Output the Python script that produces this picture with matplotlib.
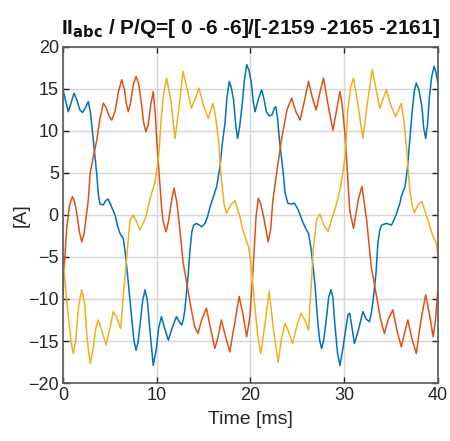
import numpy as np
import matplotlib
matplotlib.use('Agg')
import matplotlib.pyplot as plt

plt.rcParams['font.family'] = ['Liberation Sans', 'DejaVu Sans']

# phase a (blue) - time [ms], current [A]
t_a = [0.0, 0.3, 0.57, 0.85, 1.17, 1.5, 1.8, 2.1, 2.4, 2.7, 2.95, 3.23, 3.59, 3.77, 3.95,
       4.3, 4.55, 4.8, 5.1, 5.55, 5.8, 6.08, 6.43, 6.7, 6.97, 7.33, 7.55, 7.79, 8.0, 8.2,
       8.5, 8.75, 9.0, 9.3, 9.63, 9.95, 10.2, 10.5, 10.85, 11.24, 11.6, 12.1, 12.4, 12.66,
       12.85, 13.0, 13.2, 13.37, 13.55, 13.75, 13.95, 14.26, 14.55, 14.8, 15.15, 15.4, 15.7,
       16.0, 16.4, 16.75, 17.0, 17.28, 17.5, 17.74, 17.95, 18.2, 18.45, 18.63, 18.85, 19.1,
       19.35, 19.6, 19.85, 20.1, 20.3, 20.5, 20.85, 21.2, 21.45, 21.7, 22.0, 22.3, 22.55,
       22.7, 22.9, 23.1, 23.5, 23.7, 24.0, 24.35, 24.7, 25.1, 25.5, 25.85, 26.2, 26.5, 26.9,
       27.2, 27.4, 27.6, 27.8, 28.05, 28.35, 28.6, 28.8, 29.0, 29.3, 29.55, 29.85, 30.1,
       30.4, 30.6, 30.85, 31.1, 31.5, 32.0, 32.35, 32.7, 32.9, 33.1, 33.4, 33.6, 33.8, 34.0,
       34.5, 35.05, 35.35, 35.6, 35.95, 36.1, 36.5, 36.75, 37.0, 37.3, 37.5, 37.7, 37.95,
       38.3, 38.5, 38.7, 38.9, 39.1, 39.35, 39.6, 39.8, 40.0]
i_a = [14.9, 13.5, 12.3, 13.3, 14.5, 13.6, 12.5, 12.2, 12.8, 13.5, 12.0, 8.9, 5.0, 2.5, 1.3,
       1.2, 1.7, 1.9, 1.2, 0.0, -1.2, -2.2, -2.8, -5.0, -8.1, -12.1, -14.8, -16.1, -15.2, -13.3,
       -10.2, -8.9, -10.2, -14.0, -17.9, -16.0, -13.5, -12.1, -13.5, -14.9, -13.6, -12.1, -12.7, -13.1,
       -12.4, -11.3, -9.0, -6.9, -4.2, -2.0, -1.2, -1.0, -1.2, -1.4, -1.0, -0.3, 1.0,
       2.0, 3.4, 5.75, 8.5, 10.9, 14.0, 15.9, 15.2, 13.7, 10.5, 9.1, 10.5, 12.9,
       16.0, 17.9, 17.2, 15.7, 13.5, 12.3, 13.8, 14.9, 13.8, 12.3, 11.8, 11.9, 12.7,
       12.9, 11.5, 8.9, 5.0, 2.6, 1.4, 1.3, 1.4, 0.6, -0.6, -1.5, -2.2, -4.2, -8.5,
       -12.9, -15.0, -15.9, -15.0, -12.9, -9.8, -8.9, -9.8, -12.9, -16.5, -17.9, -16.0, -14.1,
       -11.9, -11.7, -13.5, -15.3, -13.8, -11.5, -12.4, -12.7, -11.7, -10.1, -6.9, -3.4, -1.8, -1.2,
       -1.0, -1.2, -0.5, 0.2, 1.4, 2.2, 3.4, 5.5, 8.9, 12.8, 14.8, 15.7, 15.0,
       12.9, 10.3, 9.1, 10.8, 14.1, 16.5, 17.7, 17.0, 15.7]

# phase b (red)
t_b = [0.0, 0.2, 0.4, 0.7, 1.0, 1.25, 1.5, 1.75, 2.0, 2.25, 2.5, 2.7, 2.9, 3.25, 3.6, 3.95,
       4.3, 4.6, 4.9, 5.2, 5.55, 5.9, 6.26, 6.55, 6.75, 6.97, 7.2, 7.5, 7.8, 8.1, 8.4, 8.6,
       8.85, 9.1, 9.35, 9.63, 9.85, 10.0, 10.35, 10.55, 10.7, 11.0, 11.25, 11.6, 11.85, 12.15,
       12.45, 12.8, 13.2, 13.7, 14.05, 14.4, 14.8, 15.3, 15.75, 16.2, 16.55, 16.9, 17.35, 17.8,
       18.3, 18.8, 19.2, 19.6, 19.95, 20.3, 20.6, 20.85, 21.1, 21.4, 21.9, 22.15, 22.4, 22.8,
       23.3, 23.9, 24.4, 24.85, 25.3, 25.75, 26.2, 26.6, 27.0, 27.4, 27.8, 28.3, 28.8, 29.2,
       29.55, 29.8, 30.1, 30.6, 31.0, 31.5, 31.9, 32.4, 32.9, 33.4, 33.9, 34.3, 34.75, 35.2,
       35.65, 36.1, 36.45, 36.8, 37.25, 37.7, 38.2, 38.7, 39.1, 39.5, 39.75, 40.0]
i_b = [-9.5, -5.0, -1.5, 1.2, 2.2, 1.5, 0.0, -2.0, -3.2, -2.2, 0.0, 1.8, 5.0, 7.0, 8.9, 11.5,
       13.3, 12.8, 11.8, 11.3, 12.3, 14.6, 16.1, 15.0, 13.3, 12.3, 13.3, 15.5, 16.5, 15.5, 13.0, 11.0,
       9.9, 10.8, 13.0, 14.7, 12.0, 8.9, 3.5, 0.5, -0.8, -2.0, -0.8, 1.8, 3.2, 1.5,
       -1.5, -5.5, -8.1, -11.3, -13.3, -14.1, -12.5, -11.1, -13.5, -15.9, -14.5, -12.5, -14.5, -16.3,
       -13.0, -9.7, -11.8, -14.5, -12.1, -6.2, -0.2, 2.0, 1.3, -0.2, -3.2, -1.8, 1.8, 5.0,
       8.9, 12.5, 13.9, 12.3, 11.3, 13.5, 15.9, 14.0, 12.5, 14.5, 16.3, 13.0, 10.1, 12.5,
       14.7, 13.0, 9.5, 0.5, -1.6, 1.8, 3.4, -0.6, -6.2, -9.3, -12.5, -14.1, -12.3, -11.3,
       -13.8, -15.7, -14.0, -12.5, -14.8, -16.5, -12.5, -9.5, -11.8, -14.5, -12.5, -8.9]

# phase c (yellow)
t_c = [0.0, 0.3, 0.57, 0.85, 1.1, 1.35, 1.65, 2.0, 2.3, 2.6, 2.9, 3.2, 3.5, 3.77, 4.2, 4.6,
       5.0, 5.37, 5.7, 6.15, 6.4, 6.8, 7.15, 7.5, 7.85, 8.2, 8.55, 8.85, 9.3, 9.8, 10.2, 10.5,
       10.75, 11.05, 11.5, 11.95, 12.35, 12.8, 13.25, 13.7, 14.1, 14.5, 15.0, 15.5, 16.0, 16.3,
       16.6, 16.9, 17.2, 17.45, 17.9, 18.35, 18.9, 19.2, 19.8, 20.1, 20.5, 20.8, 21.1, 21.55,
       22.0, 22.5, 22.96, 23.35, 23.7, 24.1, 24.5, 25.0, 25.4, 25.8, 26.2, 26.5, 26.7, 27.05,
       27.4, 27.85, 28.3, 28.65, 29.0, 29.4, 29.7, 30.1, 30.4, 30.7, 31.0, 31.5, 32.0, 32.5,
       33.0, 33.4, 33.8, 34.15, 34.5, 35.0, 35.5, 36.1, 36.4, 36.65, 37.0, 37.25, 37.5, 37.9,
       38.3, 38.9, 39.5, 39.85, 40.0]
i_c = [-5.0, -9.0, -12.1, -15.0, -16.5, -15.0, -11.0, -8.9, -10.5, -15.0, -17.7, -16.0, -13.5, -12.5, -14.0, -15.5,
       -13.5, -11.5, -12.1, -13.5, -10.1, -5.0, -0.6, 0.0, -0.8, -1.8, -1.0, -0.2, 2.0, 3.8, 6.9, 11.7,
       14.5, 16.3, 13.7, 9.1, 12.5, 17.1, 15.0, 12.7, 13.8, 15.1, 13.0, 11.5, 13.3, 11.5,
       8.9, 4.2, 1.2, 0.2, 1.2, 1.7, -0.3, -1.8, -3.8, -6.2, -11.3, -14.5, -16.5, -13.0,
       -9.1, -14.0, -17.5, -14.5, -12.9, -14.0, -15.3, -13.0, -11.7, -12.5, -13.7, -8.1, -4.2, -0.6,
       0.1, -1.2, -2.0, -0.6, 0.6, 2.2, 3.8, 6.9, 12.5, 15.2, 16.3, 12.9, 9.1, 13.5,
       17.3, 15.0, 12.7, 13.8, 14.9, 13.0, 11.7, 13.3, 11.0, 8.1, 3.0, 1.2, 0.3, 1.2,
       1.6, -0.5, -2.6, -3.4, -5.0]

fig = plt.figure(figsize=(4.5, 4.41), dpi=100)
ax = fig.add_axes([0.14, 0.1315, 0.833, 0.762])

ax.plot(t_a, i_a, color='#0072BD', lw=1.1)
ax.plot(t_b, i_b, color='#D95319', lw=1.1)
ax.plot(t_c, i_c, color='#EDB120', lw=1.1)

ax.set_xlim(0, 40)
ax.set_ylim(-20, 20)
ax.set_xticks([0, 10, 20, 30, 40])
ax.set_yticks([-20, -15, -10, -5, 0, 5, 10, 15, 20])
ax.grid(True, color='#d6d6d6', lw=1.0)
ax.set_axisbelow(True)
ax.tick_params(direction='in', top=True, right=True, length=4, width=1,
               labelsize=13, colors='#262626', pad=3)
for s in ax.spines.values():
    s.set_color('#595959')
    s.set_linewidth(1.2)

ax.set_xlabel('Time [ms]', fontsize=14, color='#262626', labelpad=5)
ax.set_ylabel('[A]', fontsize=14, color='#262626', labelpad=-1)
ax.set_title(r'II$_{\mathbf{abc}}$ / P/Q=[ 0 -6 -6]/[-2159 -2165 -2161]',
             fontsize=15, fontweight='bold', color='#111111', pad=9)

fig.savefig('out.png', dpi=100)
